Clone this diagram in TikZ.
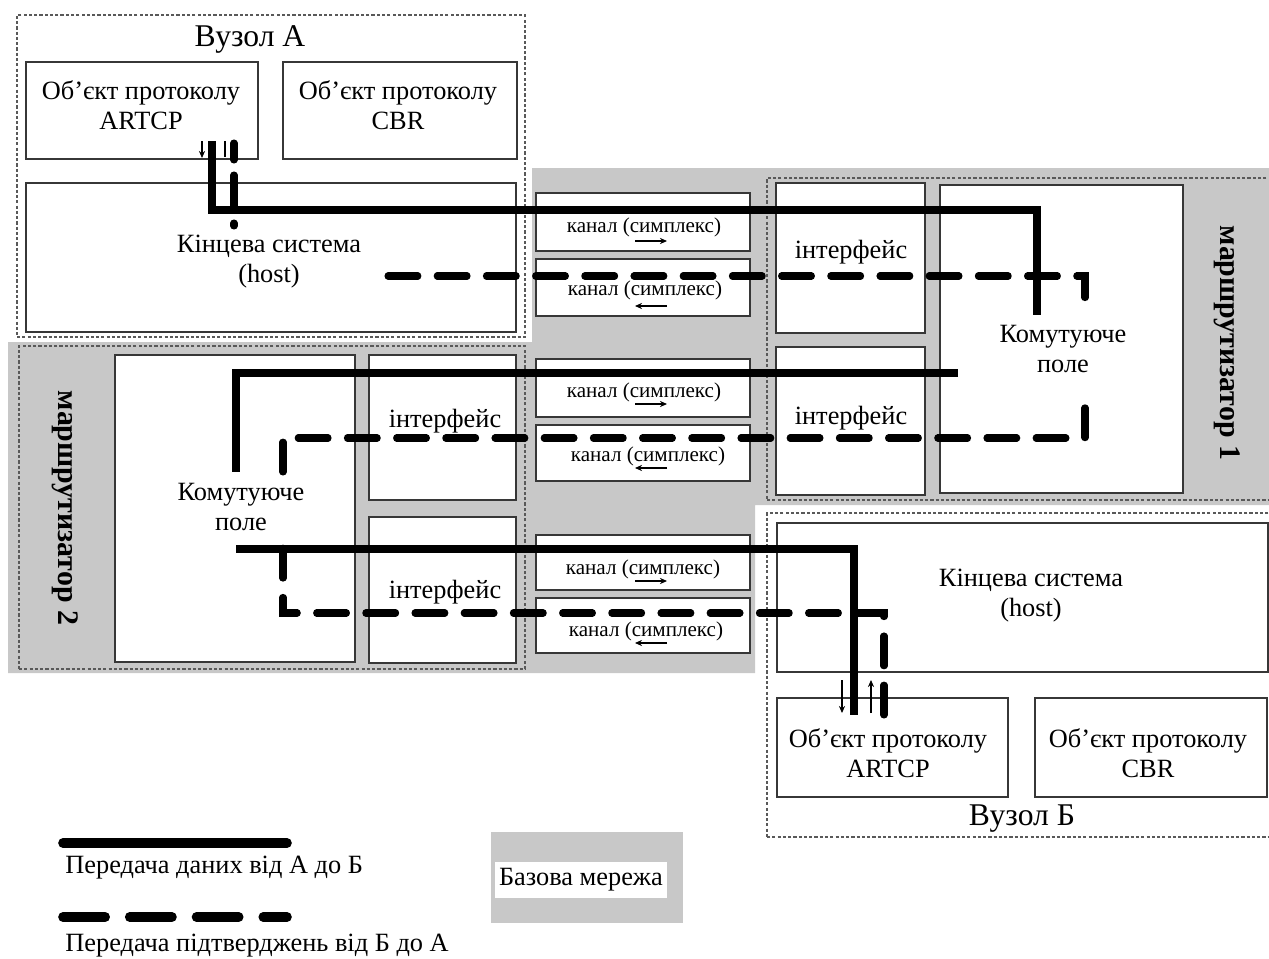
\documentclass[tikz,border=0pt]{standalone}
\usepackage{fontspec}
\setmainfont{Liberation Serif}
\usetikzlibrary{arrows.meta,fit}
\definecolor{basegray}{RGB}{200,200,200}
\definecolor{edgecol}{RGB}{55,55,55}
\begin{document}
\begin{tikzpicture}[x=0.02cm,y=-0.02cm,
  box/.style={draw=edgecol, line width=0.8pt, fill=white, inner sep=0pt, rectangle},
  zone/.style={draw=black!65, line width=0.7pt, dash pattern=on 1.8pt off 1.2pt, inner sep=0pt, rectangle},
  lbl/.style={font=\fontsize{15}{17}\selectfont, align=center, inner sep=0pt},
  ttl/.style={font=\fontsize{18}{20}\selectfont, inner sep=0pt},
  chlbl/.style={font=\fontsize{12}{14}\selectfont, inner sep=0pt},
  vlbl/.style={font=\fontsize{17}{19}\selectfont\bfseries, rotate=-90, inner sep=0pt},
  datapath/.style={line width=4pt, line join=miter},
  ackpath/.style={line width=4pt, dash pattern=on 17pt off 11pt, line cap=round},
  tickarrow/.style={line width=0.9pt, -{Stealth[length=4pt,width=3.5pt]}},
  legsolid/.style={line width=5.5pt, line cap=round},
  legdash/.style={line width=5.5pt, line cap=round, dash pattern=on 24pt off 14pt},
]
\useasboundingbox (0,0) rectangle (1269,958);

% base network (gray)
\fill[basegray] (532,168) -- (1269,168) -- (1269,505) -- (755,505) -- (755,673)
  -- (8,673) -- (8,342) -- (532,342) -- cycle;

% ---- Вузол А
\node[zone, fit={(17,15) (525,337)}] (nodeA) {};
\node[ttl] (nodeAtitle) at (250,39) {Вузол А};
\node[box, fit={(26,62) (258,159)}] (artcpA) {};
\node[lbl] (artcpAtxt) at (141,105) {Об’єкт протоколу\\ARTCP};
\node[box, fit={(283,62) (517,159)}] (cbrA) {};
\node[lbl] (cbrAtxt) at (398,105) {Об’єкт протоколу\\CBR};
\node[box, fit={(26,183) (516,332)}] (hostA) {};
\node[lbl] (hostAtxt) at (269,262) {Кінцева система\\(host)};

% ---- Маршрутизатор 1
\node[zone, fit={(767,178) (1280,500)}] (router1) {};
\node[box, fit={(776,183) (925,333)}] (ifR1a) {};
\node[lbl] (ifR1atxt) at (851,252) {інтерфейс};
\node[box, fit={(776,347) (925,495)}] (ifR1b) {};
\node[lbl] (ifR1btxt) at (851,418) {інтерфейс};
\node[box, fit={(940,185) (1183,493)}] (swR1) {};
\node[lbl] (swR1txt) at (1063,349) {Комутуюче\\поле};
\node[vlbl] (router1txt) at (1227,343) {маршрутизатор 1};

% ---- channels
\node[box, fit={(536,193) (750,251)}] (ch1) {};
\node[chlbl] (ch1txt) at (644,227) {канал (симплекс)};
\node[box, fit={(536,259) (750,316)}] (ch2) {};
\node[chlbl] (ch2txt) at (645,290) {канал (симплекс)};
\node[box, fit={(536,359) (750,417)}] (ch3) {};
\node[chlbl] (ch3txt) at (644,392) {канал (симплекс)};
\node[box, fit={(536,425) (750,481)}] (ch4) {};
\node[chlbl] (ch4txt) at (648,456) {канал (симплекс)};
\node[box, fit={(536,535) (750,590)}] (ch5) {};
\node[chlbl] (ch5txt) at (643,569) {канал (симплекс)};
\node[box, fit={(536,598) (750,653)}] (ch6) {};
\node[chlbl] (ch6txt) at (646,631) {канал (симплекс)};

% ---- Маршрутизатор 2
\node[zone, fit={(19,346) (525,669)}] (router2) {};
\node[box, fit={(115,355) (355,662)}] (swR2) {};
\node[lbl] (swR2txt) at (241,507) {Комутуюче\\поле};
\node[box, fit={(369,355) (516,500)}] (ifR2a) {};
\node[lbl] (ifR2atxt) at (445,421) {інтерфейс};
\node[box, fit={(369,517) (516,663)}] (ifR2b) {};
\node[lbl] (ifR2btxt) at (445,592) {інтерфейс};
\node[vlbl] (router2txt) at (65,508) {маршрутизатор 2};

% ---- Вузол Б
\node[zone, fit={(767,513) (1280,837)}] (nodeB) {};
\node[box, fit={(777,523) (1268,672)}] (hostB) {};
\node[lbl] (hostBtxt) at (1031,596) {Кінцева система\\(host)};
\node[box, fit={(777,698) (1008,797)}] (artcpB) {};
\node[lbl] (artcpBtxt) at (888,753) {Об’єкт протоколу\\ARTCP};
\node[box, fit={(1035,698) (1267,797)}] (cbrB) {};
\node[lbl] (cbrBtxt) at (1148,753) {Об’єкт протоколу\\CBR};
\node[ttl] (nodeBtitle) at (1022,819) {Вузол Б};

% ---- small direction arrows in channels
\coordinate (c1a) at (635,241); \coordinate (c1b) at (667,241);
\coordinate (c2a) at (667,306); \coordinate (c2b) at (635,306);
\coordinate (c3a) at (635,404); \coordinate (c3b) at (667,404);
\coordinate (c4a) at (667,468); \coordinate (c4b) at (635,468);
\coordinate (c5a) at (635,581); \coordinate (c5b) at (667,581);
\coordinate (c6a) at (667,643); \coordinate (c6b) at (635,643);
\foreach \s in {1,...,6} \draw[tickarrow] (c\s a) -- (c\s b);

% ---- data route А -> Б (solid)
\coordinate (d0) at (212,141); \coordinate (d1) at (212,210);
\coordinate (d2) at (1037,210); \coordinate (d3) at (1037,315);
\coordinate (d4) at (958,373); \coordinate (d5) at (236,373);
\coordinate (d6) at (236,472); \coordinate (d7) at (236,549);
\coordinate (d8) at (854,549); \coordinate (d9) at (854,715);
\draw[datapath] (d0) -- (d1) -- (d2) -- (d3);
\draw[datapath] (d4) -- (d5) -- (d6);
\draw[datapath] (d7) -- (d8) -- (d9);

% ---- acknowledgement route Б -> А (dashed)
\coordinate (a0) at (884,715); \coordinate (a1) at (884,613);
\coordinate (a2) at (283,613); \coordinate (a2b) at (283,547);
\coordinate (a3b) at (283,472); \coordinate (a3) at (283,438);
\coordinate (a4) at (1085,438); \coordinate (a5) at (1085,392);
\coordinate (a6) at (1085,314); \coordinate (a7) at (1085,276);
\coordinate (a8) at (388,276);
\draw[ackpath] (a0) -- (a1) -- (a2) -- (a2b);
\draw[ackpath] (a3b) -- (a3) -- (a4) -- (a5);
\draw[ackpath] (a8) -- (a7) -- (a6);
\coordinate (aA0) at (234,143); \coordinate (aA1) at (234,160);
\coordinate (aA2) at (234,175); \coordinate (aA3) at (234,206);
\coordinate (aA4) at (234,223); \coordinate (aA5) at (234,226);
\draw[line width=4pt, line cap=round] (aA0) -- (aA1) (aA2) -- (aA3) (aA4) -- (aA5);

% ---- small arrows at protocol objects
\coordinate (tA0) at (202,141); \coordinate (tA1) at (202,158);
\draw[tickarrow] (tA0) -- (tA1);
\coordinate (tA2) at (225,141); \coordinate (tA3) at (225,157);
\draw[line width=0.9pt] (tA2) -- (tA3);
\coordinate (tB0) at (842,680); \coordinate (tB1) at (842,713);
\draw[tickarrow] (tB0) -- (tB1);
\coordinate (tB2) at (871,713); \coordinate (tB3) at (871,680);
\draw[tickarrow] (tB2) -- (tB3);

% ---- legend
\coordinate (ls0) at (63,843); \coordinate (ls1) at (287,843);
\draw[legsolid] (ls0) -- (ls1);
\node[lbl, anchor=base west] (legdatatxt) at (65,873) {Передача даних від А до Б};
\coordinate (ld0) at (63,917); \coordinate (ld1) at (287,917);
\draw[legdash] (ld0) -- (ld1);
\node[lbl, anchor=base west] (legacktxt) at (65,951) {Передача підтверджень від Б до А};
\node[fill=basegray, inner sep=0pt, fit={(491,832) (683,923)}] (legbase) {};
\node[fill=white, inner sep=0pt, fit={(495,862) (667,898)}] (legbasewhite) {};
\node[lbl] (legbasetxt) at (581,880) {Базова мережа};
\end{tikzpicture}
\end{document}
